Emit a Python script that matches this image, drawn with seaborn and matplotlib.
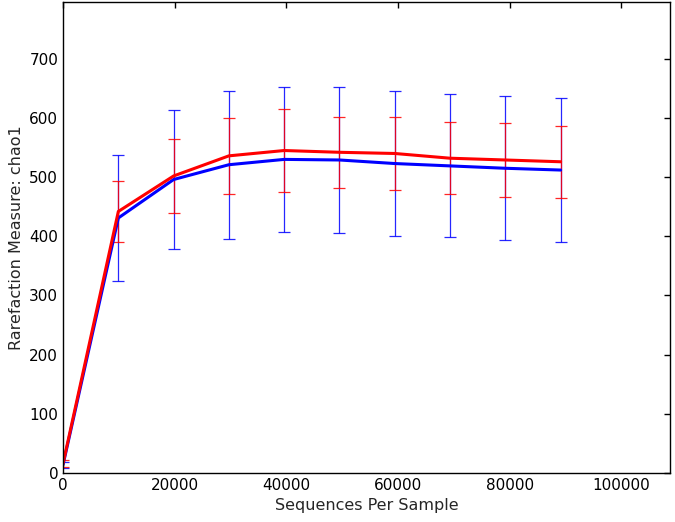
import pandas as pd
import seaborn as sns
import matplotlib
matplotlib.use("Agg")
import matplotlib.pyplot as plt

# sequences per sample (rarefaction depths)
depth = [10, 9910, 19810, 29710, 39610, 49510, 59410, 69310, 79210, 89110]

# chao1 means and standard deviations for the two groups
blue_mean = [14, 431, 496, 521, 530, 529, 523, 519, 515, 512]
blue_sd = [5, 106, 117, 125, 122, 123, 122, 121, 122, 121]
red_mean = [16, 442, 502, 536, 545, 542, 540, 532, 529, 526]
red_sd = [6, 52, 63, 64, 70, 60, 62, 61, 62, 61]

df = pd.concat([
    pd.DataFrame({"depth": depth, "chao1": blue_mean, "sd": blue_sd, "grp": "blue"}),
    pd.DataFrame({"depth": depth, "chao1": red_mean, "sd": red_sd, "grp": "red"}),
])

sns.set_style("white")
plt.rcParams["font.family"] = ["DejaVu Sans"]

fig = plt.figure(figsize=(6.75, 5.22), dpi=100)
ax = fig.add_axes([63 / 675, 49 / 522, 607 / 675, 471 / 522])

colors = {"blue": "#0000ff", "red": "#ff0000"}
for g in ["blue", "red"]:
    d = df[df.grp == g]
    ax.errorbar(d["depth"], d["chao1"], yerr=d["sd"], fmt="none",
                ecolor=colors[g], elinewidth=0.9, capsize=4, capthick=0.9, alpha=0.85)
sns.lineplot(data=df, x="depth", y="chao1", hue="grp", palette=colors,
             linewidth=2.2, legend=False, ax=ax, estimator=None)

ax.set_xlim(0, 108700)
ax.set_ylim(0, 796)
ax.set_xticks(range(0, 100001, 20000))
ax.set_yticks(range(0, 701, 100))
ax.tick_params(direction="in", top=True, right=True, length=4, width=1,
               labelsize=11, colors="black")
for s in ax.spines.values():
    s.set_color("black")
    s.set_linewidth(1)
ax.set_xlabel("Sequences Per Sample", fontsize=11.5)
ax.set_ylabel("Rarefaction Measure: chao1", fontsize=11.5)

fig.savefig("out.png", dpi=100)
